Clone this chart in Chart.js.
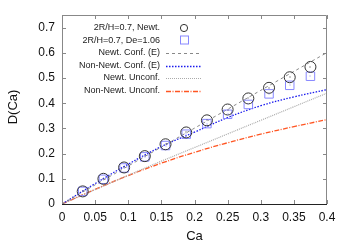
<!DOCTYPE html>
<html><head><meta charset="utf-8">
<script src="https://cdn.jsdelivr.net/npm/chart.js@4/dist/chart.umd.min.js"></script>
<style>html,body{margin:0;padding:0;background:#fff}#w{width:350px;height:245px}</style>
</head><body><div id="w"><canvas id="c" width="350" height="245"></canvas></div>
<script>
const xTicks = ['0','0.05','0.1','0.15','0.2','0.25','0.3','0.35','0.4'];
const yTicks = ['0','0.1','0.2','0.3','0.4','0.5','0.6','0.7'];
const xTitle = 'Ca';
const yTitle = 'D(Ca)';
const caPts = [0.03125,0.0625,0.09375,0.125,0.15625,0.1875,0.21875,0.25,0.28125,0.3125,0.34375,0.375];
const newtPts = [0.05,0.1,0.145,0.19,0.237,0.284,0.332,0.375,0.419,0.461,0.503,0.544];
const deb106Pts = [0.05,0.098,0.143,0.187,0.232,0.277,0.319,0.356,0.395,0.437,0.471,0.507];
const caLine = [0,0.05,0.1,0.15,0.2,0.25,0.3,0.35,0.4];
const newtConf = [0,0.076,0.151,0.226,0.301,0.376,0.451,0.526,0.601];
const nonNewtConf = [0,0.081,0.158,0.228,0.285,0.343,0.39,0.425,0.454];
const newtUnconf = [0,0.057,0.114,0.17,0.224,0.278,0.332,0.386,0.44];
const nonNewtUnconf = [0,0.058,0.113,0.162,0.205,0.243,0.277,0.307,0.335];
const labels = ['2R/H=0.7, Newt.','2R/H=0.7, De=1.06','Newt. Conf. (E)','Non-Newt. Conf. (E)','Newt. Unconf.','Non-Newt. Unconf.'];

const xy = (xs, ys) => xs.map((x,i)=>({x, y: ys[i]}));
const FONT = '"Liberation Sans", Arial, sans-serif';

const datasets = [
  {label: labels[0], data: xy(caPts,newtPts), showLine:false, pointStyle:'circle', pointRadius:5.5, borderColor:'#333', backgroundColor:'rgba(0,0,0,0)', borderWidth:1, kind:'circle'},
  {label: labels[1], data: xy(caPts,deb106Pts), showLine:false, pointStyle:'rect', pointRadius:6, borderColor:'#8888ff', backgroundColor:'rgba(0,0,0,0)', borderWidth:1, kind:'rect'},
  {label: labels[2], data: xy(caLine,newtConf), showLine:true, pointRadius:0, borderColor:'#888', borderWidth:1, borderDash:[3,3], tension:0.3},
  {label: labels[3], data: xy(caLine,nonNewtConf), showLine:true, pointRadius:0, borderColor:'#1a1aee', borderWidth:1.3, borderDash:[1.5,1.5], tension:0.4},
  {label: labels[4], data: xy(caLine,newtUnconf), showLine:true, pointRadius:0, borderColor:'#aaa', borderWidth:1.2, borderDash:[1,1], tension:0.4},
  {label: labels[5], data: xy(caLine,nonNewtUnconf), showLine:true, pointRadius:0, borderColor:'#ff5522', borderWidth:1.3, borderDash:[5,1.5,1,1.5], tension:0.4},
];

const frame = {
  id:'frame',
  afterDatasetsDraw(chart){
    const {ctx, chartArea:a, scales:{x,y}} = chart;
    ctx.save();
    const m0 = chart.getDatasetMeta(0), m1 = chart.getDatasetMeta(1);
    ctx.fillStyle='#333';
    m0.data.forEach(p=>{ctx.fillRect(Math.round(p.x)-0.5,Math.round(p.y)-0.5,1,1);});
    ctx.fillStyle='#8888ff';
    m1.data.forEach(p=>{ctx.fillRect(Math.round(p.x)-0.5,Math.round(p.y)-0.5,1,1);});
    ctx.strokeStyle='#888'; ctx.lineWidth=1;
    const L=Math.round(a.left)+0.5, T=Math.round(a.top)+0.5, R=Math.round(a.right)-0.5, B=Math.round(a.bottom)+0.5;
    ctx.beginPath(); ctx.moveTo(L,B); ctx.lineTo(L,T); ctx.lineTo(R,T); ctx.lineTo(R,B); ctx.stroke();
    ctx.beginPath();
    x.ticks.forEach(t=>{const px=Math.round(x.getPixelForValue(t.value))+0.5;
      ctx.moveTo(px,a.bottom); ctx.lineTo(px,a.bottom-4);
      ctx.moveTo(px,a.top); ctx.lineTo(px,a.top+4);});
    y.ticks.forEach(t=>{const py=Math.round(y.getPixelForValue(t.value))+0.5;
      ctx.moveTo(a.left,py); ctx.lineTo(a.left+4,py);
      ctx.moveTo(a.right,py); ctx.lineTo(a.right-4,py);});
    ctx.stroke();
    ctx.strokeStyle='#222'; ctx.beginPath(); ctx.moveTo(L-0.5,B); ctx.lineTo(R+0.5,B); ctx.stroke();
    ctx.fillStyle='#111'; ctx.font='12px '+FONT; ctx.textBaseline='middle';
    ctx.textAlign='center';
    x.ticks.forEach((t,i)=>ctx.fillText(xTicks[i], x.getPixelForValue(t.value), a.bottom+14));
    ctx.textAlign='right';
    y.ticks.forEach((t,i)=>ctx.fillText(yTicks[i], a.left-7, y.getPixelForValue(t.value)));
    ctx.font='13px '+FONT; ctx.textAlign='center';
    ctx.fillText(xTitle, (a.left+a.right)/2, 236);
    ctx.save(); ctx.translate(13, 107); ctx.rotate(-Math.PI/2); ctx.fillText(yTitle,0,0); ctx.restore();
    ctx.font = '9px '+FONT; ctx.textAlign='right'; ctx.textBaseline='middle';
    const rows=[28,40.5,53,65.5,78,90.5];
    chart.data.datasets.forEach((d,i)=>{
      const yy=rows[i];
      ctx.fillStyle='#222'; ctx.fillText(d.label,160,yy);
      ctx.strokeStyle=d.borderColor; ctx.setLineDash([]);
      if(d.kind==='circle'){ctx.lineWidth=1;ctx.beginPath();ctx.arc(184,yy,3.6,0,Math.PI*2);ctx.stroke();}
      else if(d.kind==='rect'){ctx.lineWidth=1;ctx.strokeRect(180.5,yy-4.5,8,8);}
      else {ctx.lineWidth=d.borderWidth;ctx.setLineDash(d.borderDash);ctx.beginPath();ctx.moveTo(166,Math.round(yy)+0.5);ctx.lineTo(201,Math.round(yy)+0.5);ctx.stroke();}
    });
    ctx.restore();
  }
};

new Chart(document.getElementById('c'), {
  type:'scatter',
  data:{datasets},
  plugins:[frame],
  options:{
    responsive:false, animation:false, devicePixelRatio:1,
    layout:{padding:{top:15,right:23,left:0,bottom:0}},
    plugins:{legend:{display:false},tooltip:{enabled:false}},
    scales:{
      x:{type:'linear',min:0,max:0.4,
        afterBuildTicks(s){s.ticks=xTicks.map(v=>({value:parseFloat(v)}));},
        afterFit(s){s.height=41;},
        grid:{display:false}, border:{display:false},
        ticks:{display:false}},
      y:{type:'linear',min:0,max:0.75,
        afterBuildTicks(s){s.ticks=yTicks.map(v=>({value:parseFloat(v)}));},
        afterFit(s){s.width=62;},
        grid:{display:false}, border:{display:false},
        ticks:{display:false}}
    }
  }
});
</script></body></html>
